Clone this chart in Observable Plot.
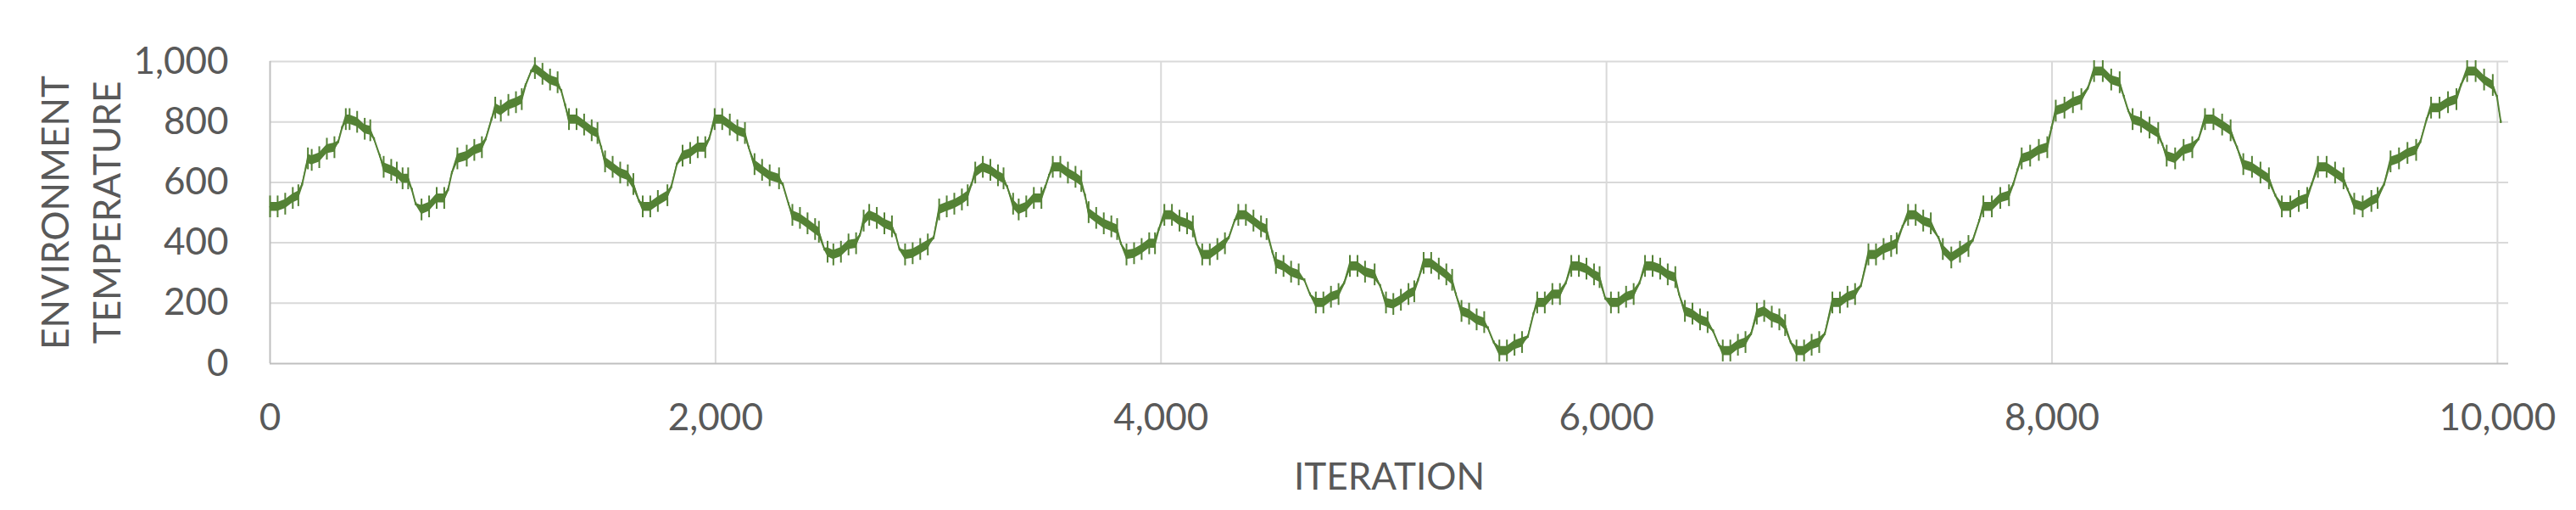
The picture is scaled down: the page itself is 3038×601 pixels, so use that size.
<!DOCTYPE html>
<html>
<head>
<meta charset="utf-8">
<script src="https://cdn.jsdelivr.net/npm/d3@7"></script>
<script src="https://cdn.jsdelivr.net/npm/@observablehq/plot@0.6"></script>
<style>
  html, body { margin: 0; padding: 0; background: #ffffff; }
  #chart svg { display: block; }
</style>
</head>
<body>
<div id="chart"></div>
<script>
// ---- data ----
const iteration = [
  0,34,68,102,127, 144,161, 170,187,221,255,289, 306,323, 340,357,391,425,450, 467,493, 510,544,569,595,620, 637,654, 680,714,748,782, 799,816, 841,883,917,951, 968,994, 1011,1036,1070,1104,1130, 1147,1172, 1189,1223,1257,1291, 1308,1325, 1342,1376,1410,1444,1470, 1487, 1504,1538,1572,1606,1631, 1657, 1673,1707,1741,1784, 1801,1826, 1852,1886,1920,1954, 1971, 1996,2030,2064,2098,2132, 2149, 2175,2209,2243,2285, 2302,2328, 2345,2379,2413,2447,2464, 2489,
  2503,2529,2563,2597,2631, 2648, 2665,2690,2724,2758,2792, 2809,2826, 2851,2885,2919,2953, 2979, 3004,3038,3072,3106,3132, 3149, 3166,3200,3234,3268,3293, 3310, 3336,3361,3395,3429,3463, 3480,3497, 3514,3548,3582,3616,3642, 3659, 3675,3709,3743,3777,3803, 3820, 3845,3879,3913,3947,3973, 3990, 4015,4049,4083,4117,4143, 4160, 4185,4219,4253,4287, 4304,4330, 4347,4381,4415,4449,4474, 4500, 4516,4550,4584,4618, 4644,4669, 4695,4729,4763,4797, 4822, 4848,
  4882,4916,4959, 4984, 5010,5043,5077,5111,5137, 5154, 5179,5213,5247,5281,5307, 5324, 5349,5383,5417,5451, 5468,5494, 5519,5553,5587,5621, 5647,5672, 5689,5723,5757,5791, 5817, 5842,5876,5910,5944,5969, 5995, 6020,6054,6088,6122, 6148, 6173,6207,6241,6275,6309, 6326, 6352,6386,6420,6454, 6479,6505, 6522,6556,6590,6624, 6649, 6675,6708,6742,6776,6802, 6827, 6853,6887,6921,6955, 6980, 7014,7048,7082,7116, 7142, 7176,7210,7244,7278,7303, 7329, 7354,7388,7422,7456,
  7491, 7510,7548,7587,7625, 7644,7673, 7692,7730,7768,7807, 7826,7845, 7864,7902,7941,7979, 7998, 8017,8056,8094,8132, 8161, 8189,8228,8266,8304, 8323,8343, 8362,8400,8438,8477, 8496, 8515,8553,8591,8630, 8658, 8687,8725,8764,8802, 8831, 8859,8898,8936,8974, 9003, 9032,9070,9108,9146, 9166, 9194,9233,9271,9309, 9328, 9357,9395,9434,9462, 9491, 9520,9558,9596,9635, 9654,9682, 9702,9740,9778,9816, 9836, 9864,9902,9940,9979, 9998,10015
];
const temperature = [
  519,519,528,547,556, 593,650, 678,673,682,710,715, 734,780, 808,808,799,776,771, 743,687, 650,640,631,612,612, 575,528, 509,519,547,547, 575,631, 678,687,706,715, 743,808, 846,836,855,864,874, 921,967, 977,958,939,930, 902,855, 808,808,790,771,762, 715, 668,650,631,622,593, 537, 519,519,537,556, 584,659, 687,696,715,715, 743, 808,808,790,771,762, 715, 659,640,622,612, 593,528, 491,481,463,444,435, 378,
  369,360,369,393,397, 425, 472,491,481,463,453, 425,378, 360,364,378,393, 416, 509,519,528,542,556, 593, 631,650,640,622,612, 584, 528,509,519,547,547, 584,622, 650,650,631,617,603, 556, 500,481,463,453,444, 397, 360,364,378,397,397, 444, 491,491,472,463,453, 397, 360,360,378,397, 416,472, 491,491,472,453,444, 369, 332,322,303,294, 276,229, 201,201,220,229, 266, 322,
  322,303,294, 257, 201,196,210,229,238, 276, 332,332,313,294,276, 229, 173,164,145,136, 117,70, 42,42,61,70, 89,164, 201,201,229,229, 266, 322,322,313,294,285, 215, 201,201,220,229, 266, 322,322,313,294,285, 229, 173,164,145,136, 107,61, 42,42,61,70, 98, 164,173,154,145,126, 70, 42,42,61,70, 98, 201,201,220,229, 257, 360,360,378,388,397, 453, 491,491,472,463,
  416, 378,350,369,388, 407,472, 519,519,547,556, 593,640, 678,687,706,715, 780, 836,846,864,874, 911, 967,967,939,930, 883,836, 808,799,780,762, 725, 687,678,706,715, 743, 808,808,790,771, 715, 659,650,631,612, 556, 519,519,537,547, 593, 650,650,631,612, 575, 528,519,537,547, 593, 668,678,696,706, 734,808, 846,846,864,874, 921, 967,967,939,921, 883,800
];
// dense half-range of the jitter around the line (noisy plateaus 15, clean ramps 3)
const jitter = [
  15,15,15,15,15, 3,3, 15,15,15,15,15, 3,3, 15,15,15,15,15, 3,3, 15,15,15,15,15, 3,3, 15,15,15,15, 3,3, 15,15,15,15, 3,3, 15,15,15,15,15, 3,3, 15,15,15,15, 3,3, 15,15,15,15,15, 3, 15,15,15,15,15, 3, 15,15,15,15, 3,3, 15,15,15,15, 3, 15,15,15,15,15, 3, 15,15,15,15, 3,3, 15,15,15,15,15, 3,
  15,15,15,15,15, 3, 15,15,15,15,15, 3,3, 15,15,15,15, 3, 15,15,15,15,15, 3, 15,15,15,15,15, 3, 15,15,15,15,15, 3,3, 15,15,15,15,15, 3, 15,15,15,15,15, 3, 15,15,15,15,15, 3, 15,15,15,15,15, 3, 15,15,15,15, 3,3, 15,15,15,15,15, 3, 15,15,15,15, 3,3, 15,15,15,15, 3, 15,
  15,15,15, 3, 15,15,15,15,15, 3, 15,15,15,15,15, 3, 15,15,15,15, 3,3, 15,15,15,15, 3,3, 15,15,15,15, 3, 15,15,15,15,15, 3, 15,15,15,15, 3, 15,15,15,15,15, 3, 15,15,15,15, 3,3, 15,15,15,15, 3, 15,15,15,15,15, 3, 15,15,15,15, 3, 15,15,15,15, 3, 15,15,15,15,15, 3, 15,15,15,15,
  3, 15,15,15,15, 3,3, 15,15,15,15, 3,3, 15,15,15,15, 3, 15,15,15,15, 3, 15,15,15,15, 3,3, 15,15,15,15, 3, 15,15,15,15, 3, 15,15,15,15, 3, 15,15,15,15, 3, 15,15,15,15, 3, 15,15,15,15, 3, 15,15,15,15, 3, 15,15,15,15, 3,3, 15,15,15,15, 3, 15,15,15,15, 3,3
];
// largest spike reach seen on noisy plateaus vs ramps (temperature units)
const spikePlateau = 36;
const spikeRamp = 5;
const xTicks = [0, 2000, 4000, 6000, 8000, 10000];
const yTicks = [0, 200, 400, 600, 800, 1000];
const xTitle = "ITERATION";
const yTitleLines = ["ENVIRONMENT", "TEMPERATURE"];

if (iteration.length !== temperature.length || iteration.length !== jitter.length) {
  throw new Error("length mismatch " + iteration.length + " " + temperature.length + " " + jitter.length);
}

const rows = iteration.map((it, i) => {
  const s = jitter[i] > 6 ? spikePlateau : spikeRamp;
  return {
    iteration: it,
    temperature: temperature[i],
    low: temperature[i] - jitter[i],
    high: temperature[i] + jitter[i],
    spikeLow: Math.max(0, temperature[i] - s),
    spikeHigh: temperature[i] + s
  };
});

const green = "#548235";
const textGray = "#595959";
const fmt = d3.format(",");

const chart = Plot.plot({
  width: 3038,
  height: 601,
  marginLeft: 318,
  marginRight: 80,
  marginTop: 72,
  marginBottom: 173,
  style: { fontFamily: "Lato, 'Open Sans', sans-serif", fontSize: "44px", color: textGray, background: "#ffffff", overflow: "visible" },
  x: { domain: [0, 10050], ticks: xTicks, tickFormat: fmt, tickSize: 0, tickPadding: 47, label: null },
  y: { domain: [0, 1000], ticks: yTicks, tickFormat: fmt, tickSize: 0, tickPadding: 49, label: null },
  marks: [
    Plot.ruleY(yTicks.filter(d => d > 0), { stroke: "#d9d9d9", strokeWidth: 2 }),
    Plot.ruleX(xTicks.filter(d => d > 0), { stroke: "#d9d9d9", strokeWidth: 2 }),
    Plot.ruleY([0], { stroke: "#bfbfbf", strokeWidth: 2 }),
    Plot.ruleX([0], { stroke: "#bfbfbf", strokeWidth: 2 }),
    Plot.ruleX(rows, { x: "iteration", y1: "spikeLow", y2: "spikeHigh", stroke: green, strokeWidth: 2 }),
    Plot.areaY(rows, { x: "iteration", y1: "low", y2: "high", fill: green }),
    Plot.lineY(rows, { x: "iteration", y: "temperature", stroke: green, strokeWidth: 2 }),
    Plot.text([xTitle], { frameAnchor: "bottom", textAnchor: "middle", lineAnchor: "top", dy: 117, fill: textGray, fontSize: 44 }),
    Plot.text([yTitleLines.join("\n")], { frameAnchor: "left", textAnchor: "middle", lineAnchor: "middle", rotate: -90, dx: -227, lineHeight: 1.386, fill: textGray, fontSize: 44 })
  ]
});
document.getElementById("chart").appendChild(chart);
</script>
</body>
</html>
